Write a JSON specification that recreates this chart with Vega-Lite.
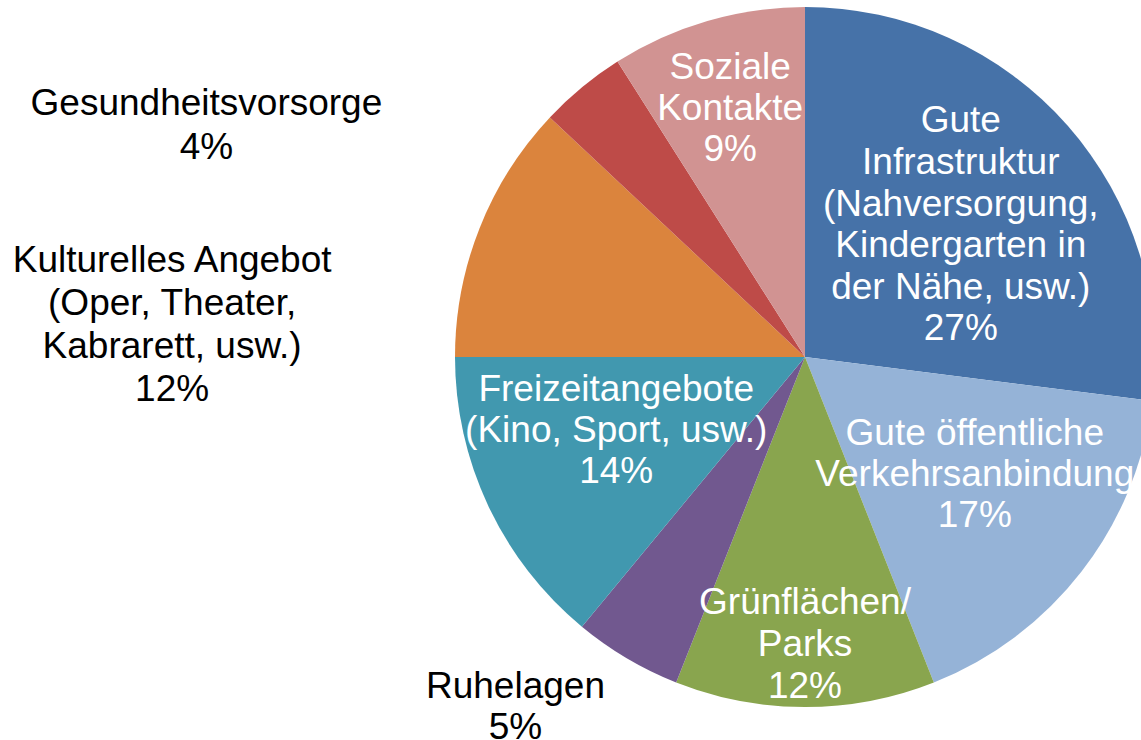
{
  "$schema": "https://vega.github.io/schema/vega-lite/v6.json",
  "autosize": "none",
  "width": 700,
  "height": 700,
  "padding": {"left": 455, "top": 7, "right": 0, "bottom": 33},
  "background": "white",
  "view": {"stroke": null},
  "data": {
    "values": [
      {"cat": "Gute Infrastruktur", "value": 27, "label": "Gute\nInfrastruktur\n(Nahversorgung,\nKindergarten in\nder Nähe, usw.)\n27%"},
      {"cat": "Gute öffentliche Verkehrsanbindung", "value": 17, "label": "Gute öffentliche\nVerkehrsanbindung\n17%"},
      {"cat": "Grünflächen/Parks", "value": 12, "label": "Grünflächen/\nParks\n12%"},
      {"cat": "Ruhelagen", "value": 5, "label": "Ruhelagen\n5%"},
      {"cat": "Freizeitangebote", "value": 14, "label": "Freizeitangebote\n(Kino, Sport, usw.)\n14%"},
      {"cat": "Kulturelles Angebot", "value": 12, "label": "Kulturelles Angebot\n(Oper, Theater,\nKabrarett, usw.)\n12%"},
      {"cat": "Gesundheitsvorsorge", "value": 4, "label": "Gesundheitsvorsorge\n4%"},
      {"cat": "Soziale Kontakte", "value": 9, "label": "Soziale\nKontakte\n9%"}
    ]
  },
  "transform": [{"window": [{"op": "row_number", "as": "idx"}]}],
  "encoding": {
    "theta": {"field": "value", "type": "quantitative", "stack": true},
    "order": {"field": "idx", "type": "quantitative"}
  },
  "layer": [
    {
      "mark": {"type": "arc"},
      "encoding": {
        "color": {
          "field": "cat",
          "type": "nominal",
          "legend": null,
          "scale": {
            "domain": ["Gute Infrastruktur", "Gute öffentliche Verkehrsanbindung", "Grünflächen/Parks", "Ruhelagen", "Freizeitangebote", "Kulturelles Angebot", "Gesundheitsvorsorge", "Soziale Kontakte"],
            "range": ["#4672A8", "#95B3D7", "#89A54E", "#71588F", "#4198AF", "#DB843D", "#BE4B48", "#D19392"]
          }
        }
      }
    },
    {
      "mark": {"type": "text", "radius": 205, "dx": 2, "dy": -100, "font": "Liberation Sans", "fontSize": 37, "lineHeight": 41.6, "lineBreak": "\n", "align": "center", "baseline": "middle", "color": "white"},
      "encoding": {"text": {"condition": {"test": "datum.cat === 'Gute Infrastruktur'", "field": "label"}, "value": ""}}
    },
    {
      "mark": {"type": "text", "radius": 206, "dx": 7, "dy": -49, "font": "Liberation Sans", "fontSize": 37, "lineHeight": 41, "lineBreak": "\n", "align": "center", "baseline": "middle", "color": "white"},
      "encoding": {"text": {"condition": {"test": "datum.cat === 'Gute öffentliche Verkehrsanbindung'", "field": "label"}, "value": ""}}
    },
    {
      "mark": {"type": "text", "radius": 284, "dx": 0, "dy": -38, "font": "Liberation Sans", "fontSize": 37, "lineHeight": 42, "lineBreak": "\n", "align": "center", "baseline": "middle", "color": "white"},
      "encoding": {"text": {"condition": {"test": "datum.cat === 'Grünflächen/Parks'", "field": "label"}, "value": ""}}
    },
    {
      "mark": {"type": "text", "radius": 447, "dx": -62, "dy": -55, "font": "Liberation Sans", "fontSize": 37, "lineHeight": 41, "lineBreak": "\n", "align": "center", "baseline": "middle", "color": "black"},
      "encoding": {"text": {"condition": {"test": "datum.cat === 'Ruhelagen'", "field": "label"}, "value": ""}}
    },
    {
      "mark": {"type": "text", "radius": 202, "dx": -6, "dy": -53, "font": "Liberation Sans", "fontSize": 37, "lineHeight": 41, "lineBreak": "\n", "align": "center", "baseline": "middle", "color": "white"},
      "encoding": {"text": {"condition": {"test": "datum.cat === 'Freizeitangebote'", "field": "label"}, "value": ""}}
    },
    {
      "mark": {"type": "text", "radius": 600, "dx": -75, "dy": 125, "font": "Liberation Sans", "fontSize": 37, "lineHeight": 43, "lineBreak": "\n", "align": "center", "baseline": "middle", "color": "black"},
      "encoding": {"text": {"condition": {"test": "datum.cat === 'Kulturelles Angebot'", "field": "label"}, "value": ""}}
    },
    {
      "mark": {"type": "text", "radius": 561, "dx": -241, "dy": 179, "font": "Liberation Sans", "fontSize": 37, "lineHeight": 44, "lineBreak": "\n", "align": "center", "baseline": "middle", "color": "black"},
      "encoding": {"text": {"condition": {"test": "datum.cat === 'Gesundheitsvorsorge'", "field": "label"}, "value": ""}}
    },
    {
      "mark": {"type": "text", "radius": 261, "dx": -2, "dy": -38, "font": "Liberation Sans", "fontSize": 37, "lineHeight": 41, "lineBreak": "\n", "align": "center", "baseline": "middle", "color": "white"},
      "encoding": {"text": {"condition": {"test": "datum.cat === 'Soziale Kontakte'", "field": "label"}, "value": ""}}
    }
  ]
}
